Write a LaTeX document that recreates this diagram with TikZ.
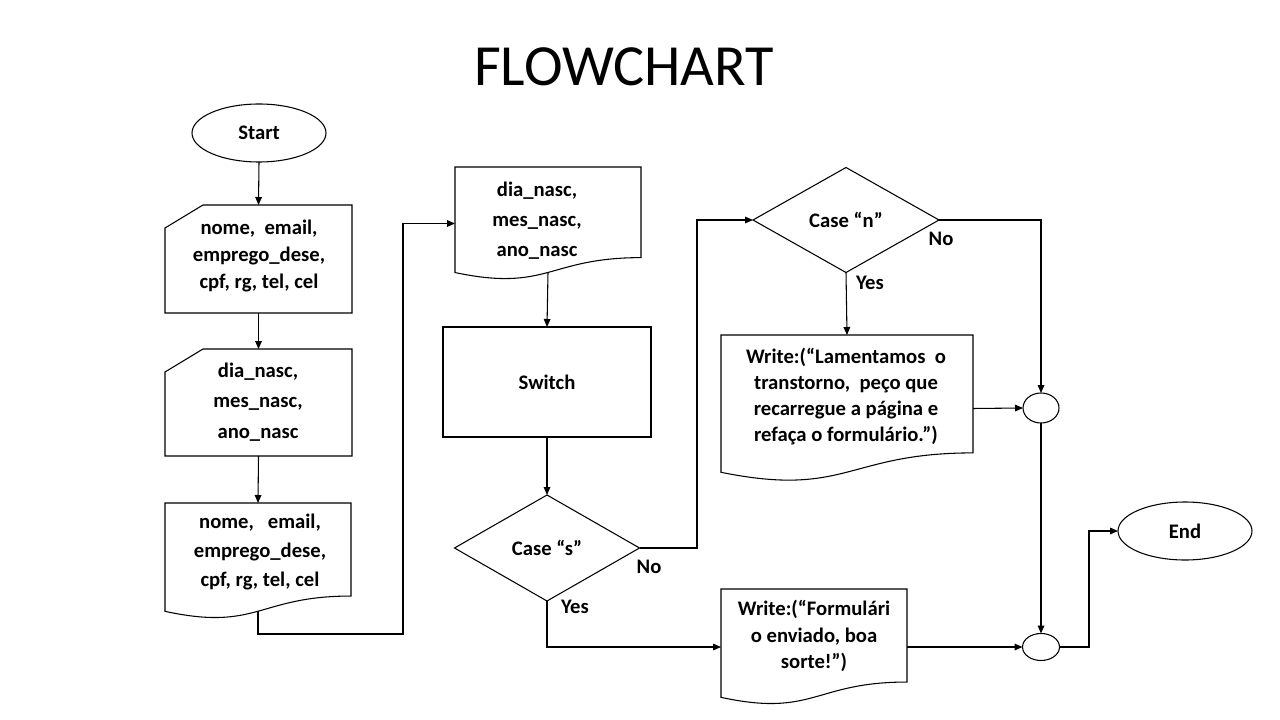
\documentclass[tikz,border=0pt]{standalone}
\usepackage{fontspec}
\setmainfont{Carlito}
\usetikzlibrary{shapes.geometric,arrows.meta,calc}
\newcommand\docoutline[1]{\draw (#1.north west) -- (#1.north east) -- ($(#1.north east)!0.802!(#1.south east)$) .. controls ($(#1.north)!0.802!(#1.south)$) and ($(#1.north)!1.1075!(#1.south)$) .. ($(#1.north west)!0.934!(#1.south west)$) -- cycle;}
\newcommand\manoutline[1]{\draw ($(#1.north west)+(38,0)$) -- (#1.north east) -- (#1.south east) -- (#1.south west) -- ($(#1.north west)+(0,23)$) -- cycle;}
\begin{document}
\begin{tikzpicture}[x=0.75pt,y=-0.75pt, line width=0.8pt,
  sz/.style 2 args={minimum width=#1*0.75pt, minimum height=#2*0.75pt, inner sep=0pt, outer sep=0pt},
  term/.style={ellipse, draw},
  procbox/.style={rectangle, draw},
  decision/.style={diamond, draw},
  junction/.style={ellipse, draw},
  txt/.style={font=\bfseries\fontsize{15.5}{#1}\selectfont, align=center, inner sep=0pt},
  txt/.default=21,
  arr/.style={-{Triangle[length=6pt,width=5pt]}},
  lbl/.style={font=\bfseries\fontsize{15.5}{19}\selectfont, inner sep=0pt}
]
\fill[white] (0,0) rectangle (1280,720);
\useasboundingbox (0,0) rectangle (1280,720);

\node[font=\fontsize{43.7}{52}\selectfont, inner sep=0pt] (title) at (624,67) {FLOWCHART};

\node[term, sz={134}{58}, txt] (start) at (259,133) {Start};

\node[sz={187}{108}] (b1) at (258.5,259) {};
\manoutline{b1}
\node[txt=20.6] (t1) at (259,256) {nome,\ \ email,\\emprego\_dese,\\cpf, rg, tel, cel};

\node[sz={187}{107}] (b2) at (258.5,402.5) {};
\manoutline{b2}
\node[txt=23] (t2) at (258,402) {dia\_nasc,\\mes\_nasc,\\ano\_nasc};

\node[sz={186}{116}] (d1) at (258,561) {};
\docoutline{d1}
\node[txt=21.4] (t3) at (260,552) {nome,\ \ \ email,\\emprego\_dese,\\cpf, rg, tel, cel};
\coordinate (d1b) at ($(d1.north)!0.933!(d1.south)$);

\node[sz={186}{113}] (d2) at (548,223.5) {};
\docoutline{d2}
\node[txt=22.5] (t4) at (537,221) {dia\_nasc,\\mes\_nasc,\\ano\_nasc};
\coordinate (d2b) at ($(d2.north)!0.933!(d2.south)$);

\node[procbox, sz={208}{110}, txt] (sw) at (547,382) {Switch};

\node[decision, sz={185}{106}, txt] (cs) at (547,548) {Case “s”};
\node[decision, sz={186}{105}, txt] (cn) at (846,220) {Case “n”};

\node[sz={252}{147}] (d3) at (847,408.5) {};
\docoutline{d3}
\node[txt=19.5] (t5) at (846,397) {Write:(“Lamentamos\ \ o\\transtorno,\ \ peço que\\recarregue a página\ e\\refaça o formulário.”)};

\node[sz={186}{116}] (d4) at (814,647) {};
\docoutline{d4}
\node[txt=19.9] (t6) at (814,636) {Write:(“Formulári\\o enviado, boa\\sorte!”)};

\node[junction, sz={36}{30}] (c1) at (1041,408) {};
\node[junction, sz={37}{27}] (c2) at (1041,647) {};

\node[term, sz={134}{58}, txt] (end) at (1185,531) {End};

\node[lbl] (no1) at (649,567) {No};
\node[lbl] (yes1) at (575,607) {Yes};
\node[lbl] (no2) at (941,239) {No};
\node[lbl] (yes2) at (870,283) {Yes};

\coordinate (k1) at (403,634);
\coordinate (k2) at (697,400);
\coordinate (k3) at (1089,600);

\draw[arr] (start.south) -- (b1.north);
\draw[arr] (b1.south) -- (b2.north);
\draw[arr] (b2.south) -- (d1.north);
\draw[arr] (d1b) |- (k1) |- (d2.west);
\draw[arr] (d2b) -- (sw.north);
\draw[arr] (sw.south) -- (cs.north);
\draw[arr] (cs.east) -| (k2) |- (cn.west);
\draw[arr] (cn.east) -| (c1.north);
\draw[arr] (cn.south) -- (d3.north);
\draw[arr] (d3.east) -- (c1.west);
\draw[arr] (c1.south) -- (c2.north);
\draw[arr] (cs.south) |- (d4.west);
\draw[arr] (d4.east) -- (c2.west);
\draw[arr] (c2.east) -| (k3) |- (end.west);
\end{tikzpicture}
\end{document}
